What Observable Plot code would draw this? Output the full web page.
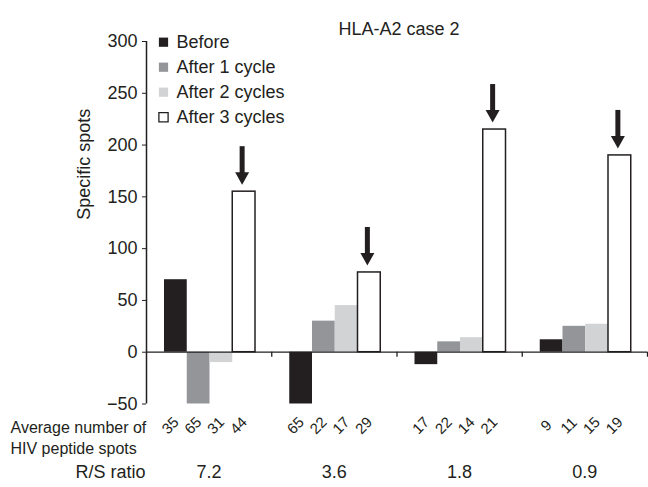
<!DOCTYPE html>
<html>
<head>
<meta charset="utf-8">
<script src="https://cdn.jsdelivr.net/npm/d3@7"></script>
<script src="https://cdn.jsdelivr.net/npm/@observablehq/plot@0.6"></script>
<style>
  html, body { margin: 0; padding: 0; background: #fff; }
</style>
</head>
<body>
<div id="chart"></div>
<script>
// ---- data ----
const title = "HLA-A2 case 2";
const groups = ["7.2", "3.6", "1.8", "0.9"];            // R/S ratio
const series = ["Before", "After 1 cycle", "After 2 cycles", "After 3 cycles"];
const valuesBefore = [70, -50, -12, 12];
const valuesAfter1 = [-50, 30, 10, 25];
const valuesAfter2 = [-10, 45, 14, 27];
const valuesAfter3 = [155, 77, 215, 190];
const spotsBefore = [35, 65, 17, 9];
const spotsAfter1 = [65, 22, 22, 11];
const spotsAfter2 = [31, 17, 14, 15];
const spotsAfter3 = [44, 29, 21, 19];
const arrowSeries = "After 3 cycles";
const yTicks = [-50, 0, 50, 100, 150, 200, 250, 300];
const yLabel = "Specific spots";
const rowLabelSpots1 = "Average number of";
const rowLabelSpots2 = "HIV peptide spots";
const rowLabelRatio = "R/S ratio";

// ---- table ----
const seriesValues = [valuesBefore, valuesAfter1, valuesAfter2, valuesAfter3];
const seriesSpots = [spotsBefore, spotsAfter1, spotsAfter2, spotsAfter3];
const rows = series.flatMap((s, i) => groups.map((g, j) => ({
  group: g, series: s, value: seriesValues[i][j], spots: seriesSpots[i][j]
})));

// ---- styles / layout ----
const W = 648, H = 487;
const mL = 146, mR = 1, mT = 41, mB = 83.5;
const bw = (W - mL - mR) / groups.length;
const padL = 18, barW = 22.75;
const pxPerUnit = (H - mT - mB) / 350;
const ink = "#231f20";
const fills = ["#231f20", "#939598", "#d1d3d4", "#ffffff"];
const font = "'Liberation Sans', Arial, Helvetica, sans-serif";

const downTriangle = {
  draw(ctx) {
    ctx.moveTo(-7, -6.25);
    ctx.lineTo(7, -6.25);
    ctx.lineTo(0, 6.25);
    ctx.closePath();
  }
};

const marks = [];

// bars
series.forEach((s, i) => {
  marks.push(Plot.barY(rows.filter(d => d.series === s), {
    x: "group", y: "value",
    fill: fills[i],
    stroke: i === 3 ? ink : "none",
    strokeWidth: 1.5,
    insetLeft: padL + barW * i,
    insetRight: bw - padL - barW * (i + 1)
  }));
});

// axes lines
marks.push(Plot.ruleY([0], {stroke: ink, strokeWidth: 1.3}));
marks.push(Plot.ruleX([groups[0]], {x: d => d, dx: -bw / 2, stroke: ink, strokeWidth: 1.5}));
marks.push(Plot.ruleX(groups, {x: d => d, dx: bw / 2, y1: 0, y2: -5 / pxPerUnit, stroke: ink, strokeWidth: 1.3}));

marks.push(Plot.axisY({
  ticks: yTicks, tickSize: 4, tickPadding: 5, fontSize: 18, label: null,
  stroke: ink,
  tickFormat: d => d < 0 ? "\u2212" + Math.abs(d) : String(d)
}));

// arrows
const arrowRows = rows.filter(d => d.series === arrowSeries);
const arrowDx = -bw / 2 + padL + barW * 3.5 - 2;
marks.push(Plot.ruleX(arrowRows, {
  x: "group",
  y1: d => d.value + 17 / pxPerUnit,
  y2: d => d.value + 45 / pxPerUnit,
  dx: arrowDx, stroke: ink, strokeWidth: 5
}));
marks.push(Plot.dot(arrowRows, {
  x: "group", y: "value", dx: arrowDx, dy: -13.25,
  symbol: downTriangle, fill: ink, stroke: "none", r: 5
}));

// spot counts (rotated)
series.forEach((s, i) => {
  marks.push(Plot.text(rows.filter(d => d.series === s), {
    x: "group", text: d => String(d.spots),
    frameAnchor: "bottom", dy: 25,
    dx: -bw / 2 + padL + barW * (i + 0.5) - 2,
    rotate: -45, fontSize: 15, fill: ink
  }));
});

// R/S ratio labels
marks.push(Plot.text(groups, {
  x: d => d, text: d => d, frameAnchor: "bottom", dy: 74, fontSize: 18, fill: ink
}));

// row labels
marks.push(Plot.text([rowLabelSpots1], {
  frameAnchor: "bottom-left", dx: 10 - mL, dy: 29, textAnchor: "start",
  fontSize: 16, fill: ink
}));
marks.push(Plot.text([rowLabelSpots2], {
  frameAnchor: "bottom-left", dx: 10 - mL, dy: 50, textAnchor: "start",
  fontSize: 16, fill: ink
}));
marks.push(Plot.text([rowLabelRatio], {
  frameAnchor: "bottom-left", dx: -1, dy: 74, textAnchor: "end",
  fontSize: 18, fill: ink
}));

// y label
marks.push(Plot.text([yLabel], {
  frameAnchor: "left", dx: -62, dy: -3, rotate: -90, fontSize: 18, fill: ink
}));

// title
marks.push(Plot.text([title], {
  frameAnchor: "top", dx: 2, dy: -19.5, fontSize: 18, fill: ink
}));

// legend
const legendStep = 25 / pxPerUnit;
marks.push(Plot.dot(series, {
  frameAnchor: "left", dx: 17,
  y: (d, i) => 300 - i * legendStep - 0.7 / pxPerUnit,
  symbol: "square", r: 5.2,
  fill: (d, i) => fills[i],
  stroke: (d, i) => i === 3 ? ink : "none",
  strokeWidth: 1.3
}));
marks.push(Plot.text(series, {
  frameAnchor: "left", dx: 30,
  y: (d, i) => 300 - i * legendStep - 0.7 / pxPerUnit,
  text: d => d, textAnchor: "start", fontSize: 18, fill: ink
}));

const chart = Plot.plot({
  width: W, height: H,
  marginLeft: mL, marginRight: mR, marginTop: mT, marginBottom: mB,
  style: {fontFamily: font, fontSize: "18px", color: ink, background: "#fff", overflow: "visible"},
  x: {domain: groups, padding: 0, round: false, axis: null},
  y: {domain: [-50, 300], axis: null},
  fill: {type: "identity"},
  stroke: {type: "identity"},
  marks
});
document.getElementById("chart").appendChild(chart);
</script>
</body>
</html>
